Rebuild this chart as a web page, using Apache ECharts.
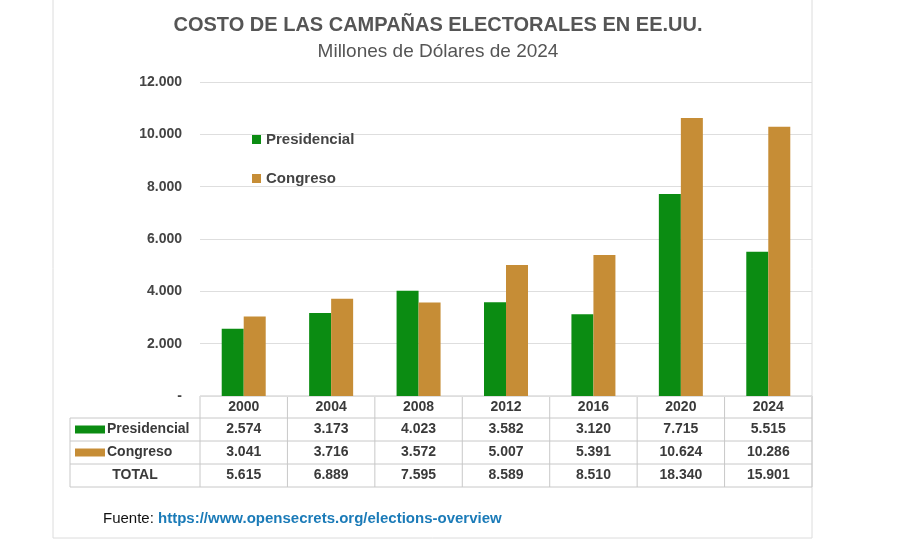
<!DOCTYPE html>
<html lang="es">
<head>
<meta charset="UTF-8">
<title>Costo de las campañas electorales</title>
<script src="https://cdn.jsdelivr.net/npm/echarts@6/dist/echarts.min.js"></script>
<style>
    html, body { margin:0; padding:0; background:#fff; }
    #chart { width:916px; height:548px; }
</style>
</head>
<body>
<div id="chart"></div>
<script>
    var years = ['2000','2004','2008','2012','2016','2020','2024'];
    var presidencial = [2574, 3173, 4023, 3582, 3120, 7715, 5515];
    var congreso = [3041, 3716, 3572, 5007, 5391, 10624, 10286];
    var totals = [5615, 6889, 7595, 8589, 8510, 18340, 15901];

    var GREEN = '#0b8c12', GOLD = '#c68d36';
    var gridL = 200, gridR = 812, gridTop = 82, gridBottom = 396;

    function fmt(v){
        if(v === 0) return '-';
        return String(v).replace(/\B(?=(\d{3})+(?!\d))/g, '.');
    }

    // tabla bajo el eje
    var g = [];
    var colW = (gridR - gridL) / years.length;
    var rowY = [396, 418, 441, 464, 487];
    var line = {stroke:'#c8c8c8', lineWidth:1};
    g.push({type:'line', shape:{x1:gridL, y1:rowY[0], x2:gridR, y2:rowY[0]}, style:line});
    for(var r=1;r<rowY.length;r++){
        g.push({type:'line', shape:{x1:70, y1:rowY[r], x2:gridR, y2:rowY[r]}, style:line});
    }
    g.push({type:'line', shape:{x1:70, y1:rowY[1], x2:70, y2:rowY[4]}, style:line});
    for(var c=0;c<=years.length;c++){
        var x = gridL + c*colW;
        g.push({type:'line', shape:{x1:x, y1:rowY[0], x2:x, y2:rowY[4]}, style:line});
    }
    var rows = [years, presidencial.map(fmt), congreso.map(fmt), totals.map(fmt)];
    rows.forEach(function(row, ri){
        row.forEach(function(t, ci){
            g.push({type:'text', x:gridL + (ci+0.5)*colW, y:(rowY[ri]+rowY[ri+1])/2,
                style:{text:t, align:'center', verticalAlign:'middle', font:'bold 14px Arial, "Liberation Sans"', fill:'#3a3a3a'}});
        });
    });
    var rowNames = [['Presidencial', GREEN], ['Congreso', GOLD]];
    rowNames.forEach(function(n, i){
        var cy = (rowY[i+1]+rowY[i+2])/2;
        g.push({type:'rect', shape:{x:75, y:cy-4, width:30, height:8}, style:{fill:n[1]}});
        g.push({type:'text', x:107, y:cy, style:{text:n[0], verticalAlign:'middle', font:'bold 14px Arial, "Liberation Sans"', fill:'#3a3a3a'}});
    });
    g.push({type:'text', x:135, y:(rowY[3]+rowY[4])/2, style:{text:'TOTAL', align:'center', verticalAlign:'middle', font:'bold 14px Arial, "Liberation Sans"', fill:'#3a3a3a'}});
    // marco
    g.push({type:'rect', shape:{x:53, y:-1, width:759, height:539}, style:{fill:'none', stroke:'#dcdcdc', lineWidth:1}, z:-1});
    // fuente
    g.push({type:'text', x:103, y:519, style:{
        text:'{a|Fuente: }{b|https://www.opensecrets.org/elections-overview}', verticalAlign:'middle',
        rich:{a:{font:'15px Arial, "Liberation Sans"', fill:'#111'}, b:{font:'bold 15px Arial, "Liberation Sans"', fill:'#1b7bb8'}}}});

    var chart = echarts.init(document.getElementById('chart'));
    chart.setOption({
        animation:false,
        title:[
            {text:'COSTO DE LAS CAMPAÑAS ELECTORALES EN EE.UU.', left:433, textAlign:'center', top:10,
             textStyle:{fontFamily:'Arial, "Liberation Sans"', fontWeight:'bold', fontSize:20, color:'#555'}},
            {text:'Millones de Dólares de 2024', left:433, textAlign:'center', top:37,
             textStyle:{fontFamily:'Arial, "Liberation Sans"', fontWeight:'normal', fontSize:19, color:'#555'}}
        ],
        legend:{orient:'vertical', left:247, top:127, itemGap:24, itemWidth:9, itemHeight:9,
            icon:'rect', textStyle:{fontFamily:'Arial, "Liberation Sans"', fontWeight:'bold', fontSize:15, color:'#444'}},
        grid:{left:gridL, right:916-gridR, top:gridTop, bottom:548-gridBottom, containLabel:false},
        xAxis:{type:'category', data:years, axisLabel:{show:false}, axisTick:{show:false},
            axisLine:{show:false}},
        yAxis:{type:'value', min:0, max:12000, interval:2000,
            axisLabel:{formatter:fmt, margin:18, fontFamily:'Arial, "Liberation Sans"', fontWeight:'bold', fontSize:14, color:'#444'},
            splitLine:{lineStyle:{color:'#dedede'}}, axisLine:{show:false}},
        series:[
            {name:'Presidencial', type:'bar', data:presidencial, barWidth:22, barGap:'0%', itemStyle:{color:GREEN}},
            {name:'Congreso', type:'bar', data:congreso, barWidth:22, itemStyle:{color:GOLD}}
        ],
        graphic:g
    });
</script>
</body>
</html>
